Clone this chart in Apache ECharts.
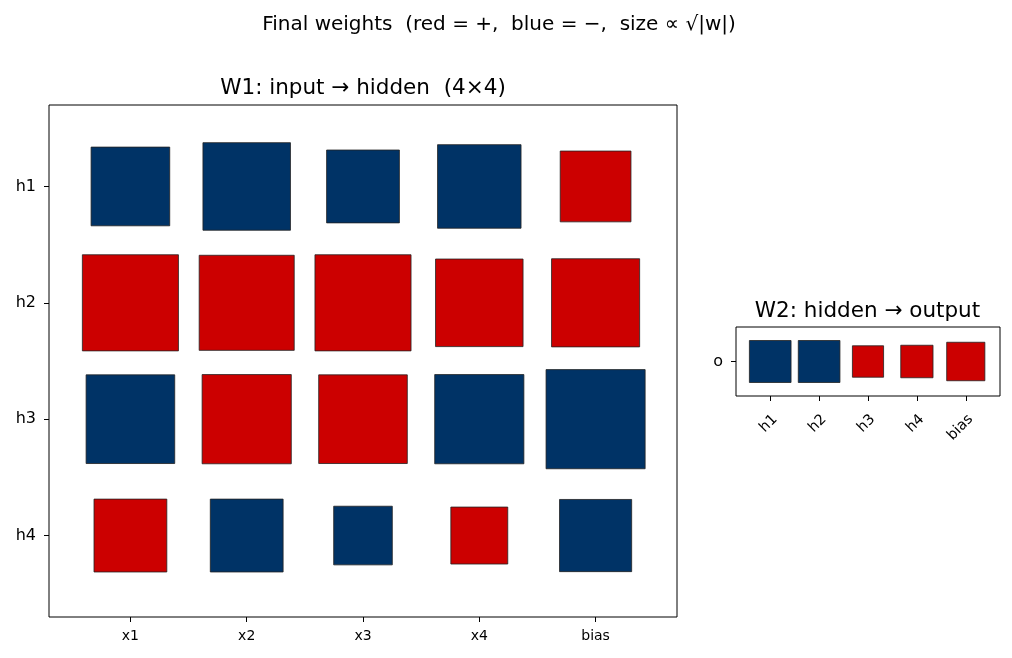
<!DOCTYPE html>
<html>
<head>
<meta charset="utf-8">
<title>Final weights</title>
<script src="https://cdn.jsdelivr.net/npm/echarts@6/dist/echarts.min.js"></script>
<style>
  html, body { margin: 0; padding: 0; background: #fff; }
  #chart { width: 1012px; height: 658px; }
</style>
</head>
<body>
<div id="chart"></div>
<script>
// labels
const inputLabels = ['x1', 'x2', 'x3', 'x4', 'bias'];
const hiddenLabels = ['h1', 'h2', 'h3', 'h4'];
const w2Labels = ['h1', 'h2', 'h3', 'h4', 'bias'];
const outLabels = ['o'];

const w1_h1 = [-0.63, -0.78, -0.54, -0.71, 0.51];
const w1_h2 = [0.94, 0.92, 0.94, 0.78, 0.79];
const w1_h3 = [-0.80, 0.81, 0.80, -0.81, -1.00];
const w1_h4 = [0.54, -0.54, -0.35, 0.33, -0.53];
// W2 weights, hidden -> output
const w2_o = [-1.00, -1.00, 0.56, 0.60, 0.84];

const RED = '#cc0000';
const BLUE = '#003366';
const FONT = 'DejaVu Sans';

function toPoints(rows) {
  const pts = [];
  rows.forEach((row, r) => {
    row.forEach((w, c) => pts.push([c, r, w]));
  });
  return pts;
}

// square side = 0.852 of a cell at the largest |w|, scaled by sqrt
function hinton(rows) {
  const pts = toPoints(rows);
  const maxW = Math.max(...pts.map(p => Math.abs(p[2])));
  return function (params, api) {
    const w = api.value(2);
    const side = 0.852 * Math.sqrt(Math.abs(w) / maxW);
    const c = api.coord([api.value(0), api.value(1)]);
    const band = api.size([1, 1]);
    const sw = band[0] * side;
    const sh = band[1] * side;
    return {
      type: 'rect',
      shape: { x: c[0] - sw / 2, y: c[1] - sh / 2, width: sw, height: sh },
      style: { fill: w > 0 ? RED : BLUE, stroke: '#222', lineWidth: 0.8 }
    };
  };
}

function hiddenAxis(gridIndex) {
  return { type: 'value', gridIndex: gridIndex, show: false, min: 0, max: 1 };
}

function catAxis(gridIndex, labels, offset, extra, labelStyle) {
  return Object.assign({
    type: 'category',
    gridIndex: gridIndex,
    data: labels,
    boundaryGap: true,
    offset: offset,
    axisLine: { show: false },
    axisTick: { show: true, alignWithLabel: true, length: 5, lineStyle: { color: '#000', width: 1 } },
    splitLine: { show: false },
    axisLabel: Object.assign({
      interval: 0,
      color: '#000',
      fontFamily: FONT,
      fontSize: 14,
      margin: 12
    }, labelStyle || {})
  }, extra || {});
}

const w1Rows = [w1_h1, w1_h2, w1_h3, w1_h4];
const w2Rows = [w2_o];

// cell sizes in px (one weight per cell, 0.7 cell margin around)
const c1x = 628 / 5.4, c1y = 512 / 4.4;
const c2x = 264 / 5.4, c2y = 69 / 1.4;

const chart = echarts.init(document.getElementById('chart'), null, { renderer: 'canvas' });
chart.setOption({
  backgroundColor: '#fff',
  animation: false,
  title: [
    {
      text: 'Final weights  (red = +,  blue = −,  size ∝ √|w|)',
      left: 499, top: 15, textAlign: 'center', padding: 0,
      textStyle: { fontFamily: FONT, fontSize: 20, fontWeight: 'normal', color: '#000' }
    },
    {
      text: 'W1: input → hidden  (4×4)',
      left: 363, top: 77, textAlign: 'center', padding: 0,
      textStyle: { fontFamily: FONT, fontSize: 21.5, fontWeight: 'normal', color: '#000' }
    },
    {
      text: 'W2: hidden → output',
      left: 867.5, top: 300, textAlign: 'center', padding: 0,
      textStyle: { fontFamily: FONT, fontSize: 21.5, fontWeight: 'normal', color: '#000' }
    }
  ],
  grid: [
    // frames
    { left: 49, top: 105, width: 628, height: 512, show: true, borderColor: '#000', borderWidth: 1, backgroundColor: '#fff' },
    { left: 736, top: 327, width: 264, height: 69, show: true, borderColor: '#000', borderWidth: 1, backgroundColor: '#fff' },
    // cell areas
    { left: 49 + 0.2 * c1x, top: 105 + 0.2 * c1y, width: 5 * c1x, height: 4 * c1y },
    { left: 736 + 0.2 * c2x, top: 327 + 0.2 * c2y, width: 5 * c2x, height: 1 * c2y }
  ],
  xAxis: [
    hiddenAxis(0),
    hiddenAxis(1),
    catAxis(2, inputLabels, 0.2 * c1y),
    catAxis(3, w2Labels, 0.2 * c2y, null, { fontSize: 14.5, rotate: 45, margin: 26, padding: [0, -7, 0, 0] })
  ],
  yAxis: [
    hiddenAxis(0),
    hiddenAxis(1),
    catAxis(2, hiddenLabels, 0.2 * c1x, { inverse: true }, { fontSize: 16, margin: 13 }),
    catAxis(3, outLabels, 0.2 * c2x, { inverse: true }, { fontSize: 16, margin: 13 })
  ],
  series: [
    {
      type: 'custom',
      xAxisIndex: 2,
      yAxisIndex: 2,
      clip: false,
      renderItem: hinton(w1Rows),
      data: toPoints(w1Rows)
    },
    {
      type: 'custom',
      xAxisIndex: 3,
      yAxisIndex: 3,
      clip: false,
      renderItem: hinton(w2Rows),
      data: toPoints(w2Rows)
    }
  ]
});
</script>
</body>
</html>
